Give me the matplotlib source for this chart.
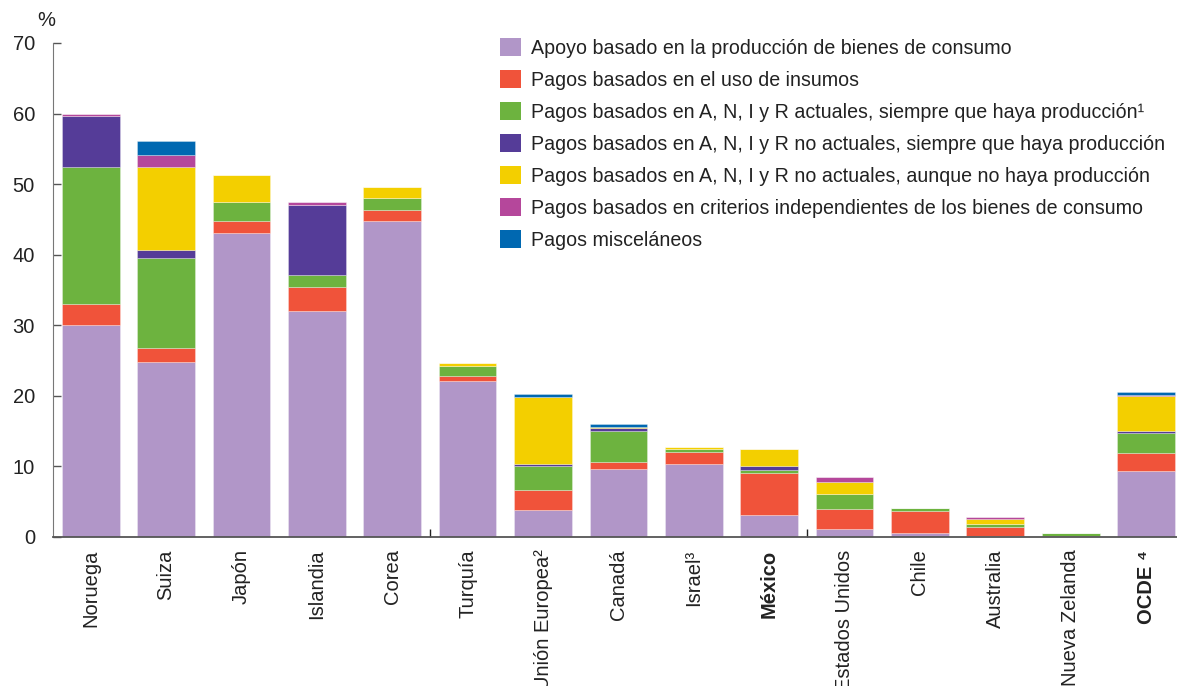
import matplotlib
matplotlib.use("Agg")
import numpy as np
import matplotlib.pyplot as plt
from matplotlib.patches import Patch

plt.rcParams['font.family'] = ['Liberation Sans', 'DejaVu Sans']

countries = ["Noruega", "Suiza", "Japón", "Islandia", "Corea", "Turquía",
             "Unión Europea²", "Canadá", "Israel³", "México", "Estados Unidos",
             "Chile", "Australia", "Nueva Zelanda", "OCDE ⁴"]
bold_labels = ["México", "OCDE ⁴"]

series_names = [
    "Apoyo basado en la producción de bienes de consumo",
    "Pagos basados en el uso de insumos",
    "Pagos basados en A, N, I y R actuales, siempre que haya producción¹",
    "Pagos basados en A, N, I y R no actuales, siempre que haya producción",
    "Pagos basados en A, N, I y R no actuales, aunque no haya producción",
    "Pagos basados en criterios independientes de los bienes de consumo",
    "Pagos misceláneos",
]

commodity_output = [30.0, 24.8, 43.1, 32.0, 44.8, 22.1, 3.8, 9.6, 10.4, 3.1, 1.2, 0.6, 0.1, 0.2, 9.4]
input_use = [3.0, 2.0, 1.7, 3.4, 1.6, 0.7, 2.8, 1.0, 1.6, 6.0, 2.75, 3.15, 1.25, 0.0, 2.5]
current_prod_req = [19.4, 12.8, 2.7, 1.7, 1.7, 1.5, 3.5, 4.4, 0.45, 0.4, 2.2, 0.35, 0.45, 0.4, 2.8]
noncurrent_prod_req = [7.2, 1.0, 0.0, 9.9, 0.0, 0.0, 0.3, 0.4, 0.0, 0.6, 0.0, 0.0, 0.0, 0.0, 0.3]
noncurrent_no_prod = [0.0, 11.9, 3.8, 0.0, 1.5, 0.4, 9.4, 0.25, 0.3, 2.35, 1.7, 0.0, 0.8, 0.0, 5.0]
non_commodity = [0.3, 1.7, 0.0, 0.4, 0.0, 0.0, 0.0, 0.0, 0.0, 0.0, 0.7, 0.0, 0.3, 0.0, 0.1]
miscellaneous = [0.0, 1.9, 0.0, 0.0, 0.0, 0.0, 0.5, 0.4, 0.0, 0.0, 0.0, 0.0, 0.0, 0.0, 0.4]

series = [commodity_output, input_use, current_prod_req, noncurrent_prod_req,
          noncurrent_no_prod, non_commodity, miscellaneous]
colors = ["#B196C8", "#F0533A", "#6DB33F", "#553C98", "#F3CF00", "#B5479B", "#0068B1"]

FS = 14.5
LEG_FS = 14.1
W, H = 1177, 686
fig = plt.figure(figsize=(W / 100, H / 100), dpi=100)
ax = fig.add_axes([53 / W, (H - 537) / H, 1 - 53 / W, (537 - 43) / H])

x = np.arange(len(countries))
bottom = np.zeros(len(countries))
for vals, col in zip(series, colors):
    v = np.array(vals, dtype=float)
    ax.bar(x, v, bottom=bottom, width=0.765, color=col,
           edgecolor=(1, 1, 1, 0.35), linewidth=0.6)
    bottom += v

ax.set_xlim(-0.5, 14.41)
ax.set_ylim(0, 70)
ax.set_yticks(range(0, 71, 10))
ax.tick_params(axis='y', direction='in', length=5.5, width=1, color='#555555',
               labelsize=FS, pad=13, labelcolor='#222222')
ax.set_xticks(x)
ax.set_xticklabels(countries, rotation=90, ha='center', va='top')
ax.tick_params(axis='x', length=0, labelsize=FS, pad=9, labelcolor='#222222')
for lbl in ax.get_xticklabels():
    if lbl.get_text() in bold_labels:
        lbl.set_fontweight('bold')
ax.set_xticks([4.5, 9.5], minor=True)
ax.tick_params(axis='x', which='minor', direction='in', length=5.5, width=1, color='#222222')

for s in ['top', 'right']:
    ax.spines[s].set_visible(False)
ax.spines['left'].set_color('#777777')
ax.spines['bottom'].set_color('#555555')
ax.spines['bottom'].set_linewidth(1.3)

fig.text(46 / W, 1 - 21 / H, "%", ha='center', va='center', fontsize=FS, color='#222222')

handles = [Patch(facecolor=c, edgecolor='none') for c in colors]
ax.legend(handles, series_names, loc='upper left',
          bbox_to_anchor=(500 / W, 1 - 38 / H), bbox_transform=fig.transFigure,
          frameon=False, fontsize=LEG_FS, handlelength=1.08, handleheight=1.03,
          handletextpad=0.5, labelspacing=0.63, borderpad=0, borderaxespad=0,
          labelcolor='#222222')

fig.savefig("out.png", dpi=100)
